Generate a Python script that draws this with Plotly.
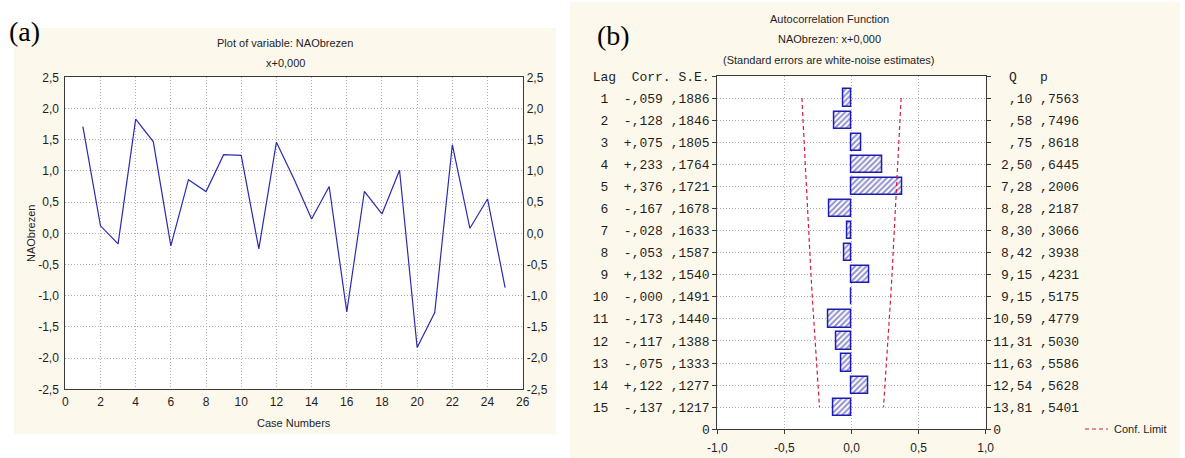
import plotly.graph_objects as go

# ---------------- data ----------------
# (a) NAO index for March (NAObrezen) by case number
case_numbers = list(range(1, 26))
nao_brezen = [1.71, 0.12, -0.17, 1.83, 1.47, -0.20, 0.86, 0.67, 1.26, 1.25,
              -0.25, 1.46, 0.87, 0.23, 0.75, -1.26, 0.67, 0.31, 1.01, -1.83,
              -1.27, 1.42, 0.08, 0.55, -0.87]

x_ticks = [0, 2, 4, 6, 8, 10, 12, 14, 16, 18, 20, 22, 24, 26]
x_tick_labels = ["0", "2", "4", "6", "8", "10", "12", "14", "16", "18",
                 "20", "22", "24", "26"]
y_ticks = [-2.5, -2.0, -1.5, -1.0, -0.5, 0.0, 0.5, 1.0, 1.5, 2.0, 2.5]
y_tick_labels = ["-2,5", "-2,0", "-1,5", "-1,0", "-0,5", "0,0", "0,5",
                 "1,0", "1,5", "2,0", "2,5"]

# (b) autocorrelation function of NAObrezen
lags = list(range(1, 16))
acf_corr = [-0.059, -0.128, 0.075, 0.233, 0.376, -0.167, -0.028, -0.053,
            0.132, -0.0004, -0.173, -0.117, -0.075, 0.122, -0.137]
acf_se = [0.1886, 0.1846, 0.1805, 0.1764, 0.1721, 0.1678, 0.1633, 0.1587,
          0.1540, 0.1491, 0.1440, 0.1388, 0.1333, 0.1277, 0.1217]
box_q = [0.10, 0.58, 0.75, 2.50, 7.28, 8.28, 8.30, 8.42, 9.15, 9.15,
         10.59, 11.31, 11.63, 12.54, 13.81]
box_p = [0.7563, 0.7496, 0.8618, 0.6445, 0.2006, 0.2187, 0.3066, 0.3938,
         0.4231, 0.5175, 0.4779, 0.5030, 0.5586, 0.5628, 0.5401]

acf_x_ticks = [-1.0, -0.5, 0.0, 0.5, 1.0]
acf_x_tick_labels = ["-1,0", "-0,5", "0,0", "0,5", "1,0"]
conf_z = 1.96

# ---------------- formatting helpers ----------------
NB = "\u00a0"


def dec(s):
    return s.replace(".", ",")


def signed3(v):
    sign = "-" if v < 0 else "+"
    return sign + dec(f"{abs(v):.3f}")[1:]


def frac4(v):
    return dec(f"{v:.4f}")[1:]


def q2(v):
    s = dec(f"{v:.2f}")
    return s[1:] if s.startswith("0") else s


rows_y = [16 - k for k in lags]            # lag 1 at the top
left_labels = [f"{k:>2}  {signed3(c)} {frac4(s)}".replace(" ", NB)
               for k, c, s in zip(lags, acf_corr, acf_se)]
right_labels = [f"{q2(q):>5} {frac4(p)}".replace(" ", NB)
                for q, p in zip(box_q, box_p)]
left_header = "Lag  Corr. S.E.".replace(" ", NB)
right_header = "  Q   p".replace(" ", NB)

conf_hi = [conf_z * s for s in acf_se]
conf_lo = [-conf_z * s for s in acf_se]

# ---------------- geometry (pixels of a 1185 x 458 page) ----------------
W, H = 1185, 458


def px(x):
    return x / W


def py(y):
    return 1 - y / H


A_X = [px(65.3), px(522.7)]
A_Y = [py(389.3), py(77.3)]
B_X = [px(717.3), px(985.7)]
B_Y = [py(429.3), py(76.0)]

SANS = "Liberation Sans, Arial, sans-serif"
MONO = "Liberation Mono, Courier New, monospace"
SERIF = "Liberation Serif, Times New Roman, serif"
TXT = "#1e1e1e"
FRAME = "#3a3a3a"
GRID = "#b0b0b0"
CREAM = "#fdf8ec"
BLUE = "#2a2ab0"
RED = "#d0203c"

fig = go.Figure()

# (a) line plot
fig.add_trace(go.Scatter(x=case_numbers, y=nao_brezen, mode="lines",
                         line=dict(color=BLUE, width=1.2),
                         xaxis="x", yaxis="y", hoverinfo="skip"))
fig.add_trace(go.Scatter(x=case_numbers, y=nao_brezen, mode="none",
                         xaxis="x", yaxis="y2", hoverinfo="skip"))

# (b) ACF bars and confidence limits
fig.add_trace(go.Bar(x=acf_corr, y=rows_y, orientation="h", width=0.78,
                     xaxis="x2", yaxis="y3", hoverinfo="skip",
                     marker=dict(color="white",
                                 line=dict(color="#1c1cb4", width=1.5),
                                 pattern=dict(shape="/", fgcolor="#24249a",
                                              bgcolor="white", size=4,
                                              solidity=0.5))))
for xs in (conf_lo, conf_hi):
    fig.add_trace(go.Scatter(x=xs, y=rows_y, mode="lines",
                             line=dict(color=RED, width=1.2, dash="4px,3px"),
                             xaxis="x2", yaxis="y3", hoverinfo="skip"))
fig.add_trace(go.Scatter(x=acf_corr, y=rows_y, mode="none",
                         xaxis="x2", yaxis="y4", hoverinfo="skip"))

axis_common = dict(showline=True, linecolor=FRAME, linewidth=1,
                   zeroline=False, gridcolor=GRID, griddash="1px,2px",
                   gridwidth=1, fixedrange=True, automargin=False)
tick_font = dict(family=SANS, size=12, color=TXT)
mono_font = dict(family=MONO, size=13, color=TXT)

fig.update_layout(
    width=W, height=H, margin=dict(l=0, r=0, t=0, b=0, pad=0),
    autosize=False,
    paper_bgcolor="white", plot_bgcolor="white", showlegend=False,
    bargap=0,
    xaxis=dict(domain=A_X, range=[0, 26], anchor="y", tickmode="array",
               tickvals=x_ticks, ticktext=x_tick_labels, ticks="",
               ticklabelstandoff=1, mirror=True, showgrid=True,
               tickfont=tick_font, **axis_common),
    yaxis=dict(domain=A_Y, range=[-2.5, 2.5], anchor="x", tickmode="array",
               tickvals=y_ticks, ticktext=y_tick_labels, ticks="",
               ticklabelstandoff=3, mirror=True, showgrid=True,
               tickfont=tick_font, **axis_common),
    yaxis2=dict(overlaying="y", side="right", anchor="x", range=[-2.5, 2.5],
                tickmode="array", tickvals=y_ticks, ticktext=y_tick_labels,
                ticks="", ticklabelstandoff=3, showgrid=False, showline=False,
                zeroline=False, tickfont=tick_font, fixedrange=True,
                automargin=False),
    xaxis2=dict(domain=B_X, range=[-1, 1], anchor="y3", tickmode="array",
                tickvals=acf_x_ticks, ticktext=acf_x_tick_labels,
                ticks="outside", ticklen=4, tickcolor=FRAME, mirror=True,
                ticklabelstandoff=3, showgrid=True, tickfont=tick_font,
                **axis_common),
    yaxis3=dict(domain=B_Y, range=[0, 16], anchor="x2", tickmode="array",
                tickvals=[0] + rows_y + [16],
                ticktext=["0"] + left_labels + [left_header],
                ticks="outside", ticklen=4, tickcolor=FRAME, mirror=True,
                showgrid=True, tickfont=mono_font, **axis_common),
    yaxis4=dict(overlaying="y3", side="right", anchor="x2", range=[0, 16],
                tickmode="array", tickvals=[0] + rows_y + [16],
                ticktext=["0"] + right_labels + [right_header],
                ticks="outside", ticklen=4, tickcolor=FRAME, showgrid=False,
                showline=False, zeroline=False, tickfont=mono_font,
                fixedrange=True, automargin=False),
)

# panel backgrounds, then white plotting areas on top of them
fig.add_shape(type="rect", xref="paper", yref="paper", layer="below",
              x0=px(14), x1=px(556), y0=py(434), y1=py(28),
              fillcolor=CREAM, line=dict(width=0))
fig.add_shape(type="rect", xref="paper", yref="paper", layer="below",
              x0=px(570), x1=px(1180), y0=0, y1=py(2),
              fillcolor=CREAM, line=dict(width=0))
for dx, dy in ((A_X, A_Y), (B_X, B_Y)):
    fig.add_shape(type="rect", xref="paper", yref="paper", layer="below",
                  x0=dx[0], x1=dx[1], y0=dy[0], y1=dy[1],
                  fillcolor="white", line=dict(width=0))


def note(text, x, y, size=11, font=SANS, color=TXT, xanchor="center", **kw):
    fig.add_annotation(text=text, x=px(x), y=py(y), xref="paper",
                       yref="paper", showarrow=False, xanchor=xanchor,
                       yanchor="middle",
                       font=dict(family=font, size=size, color=color), **kw)


# (a) texts
note("(a)", 24, 32, size=28, font=SERIF, color="black")
note("Plot of variable: NAObrezen", 285, 43)
note("x+0,000", 285, 63)
note("NAObrezen", 31, 233, textangle=-90)
note("Case Numbers", 294, 423)

# (b) texts
note("(b)", 613, 35, size=28, font=SERIF, color="black")
note("Autocorrelation Function", 829, 19)
note("NAObrezen: x+0,000", 829, 39)
note("(Standard errors are white-noise estimates)", 829, 60)

# legend for the confidence limit
fig.add_shape(type="line", xref="paper", yref="paper",
              x0=px(1085), x1=px(1108), y0=py(429), y1=py(429),
              line=dict(color=RED, width=1.2, dash="4px,3px"))
note("Conf. Limit", 1112, 429, xanchor="left")

fig.write_html("out.html")
